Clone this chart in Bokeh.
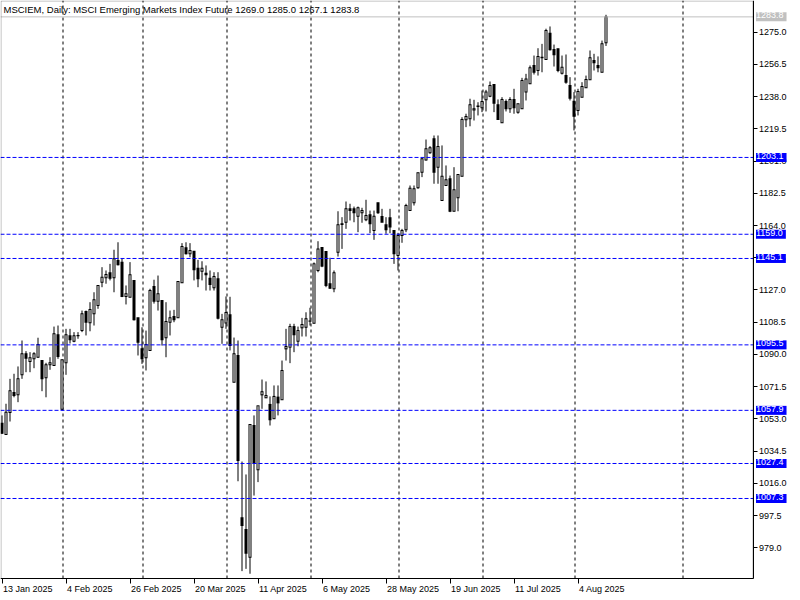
from bokeh.plotting import figure
from bokeh.models import Range1d, FixedTicker, Label, ColumnDataSource, PrintfTickFormatter, BoxAnnotation
from bokeh.embed import file_html
from bokeh.resources import INLINE

FONT = "Liberation Sans"

# ---- data (daily OHLC, MSCI EM index future, 13 Jan 2025 .. 13 Aug 2025) ----
opens = [1050.5, 1044.0, 1056.7, 1068.2, 1066.8, 1078.3, 1090.4, 1086.0, 1087.5, 1088.4,
         1086.5, 1076.6, 1084.1, 1083.7, 1101.3, 1058.5, 1085.2, 1100.7, 1097.6, 1100.9,
         1103.7, 1114.6, 1108.2, 1113.3, 1118.1, 1131.5, 1134.0, 1136.9, 1134.0, 1143.9,
         1143.0, 1123.3, 1122.9, 1132.5, 1111.0, 1093.2, 1088.1, 1092.3, 1129.0, 1120.6,
         1121.0, 1099.6, 1108.5, 1111.8, 1111.0, 1131.1, 1151.2, 1147.8, 1149.3, 1139.5,
         1137.8, 1136.6, 1133.8, 1128.3, 1133.4, 1105.6, 1108.0, 1112.8, 1074.1, 1089.4,
         996.2, 989.5, 973.6, 1049.2, 1023.8, 1066.8, 1065.1, 1061.3, 1053.1, 1065.5,
         1064.0, 1093.2, 1094.2, 1106.0, 1097.6, 1105.3, 1105.6, 1109.1, 1107.9, 1138.2,
         1151.4, 1149.1, 1130.6, 1127.7, 1148.7, 1164.6, 1165.9, 1173.6, 1173.6, 1169.4,
         1171.3, 1167.3, 1170.2, 1161.2, 1177.1, 1169.2, 1164.4, 1168.5, 1161.2, 1146.8,
         1158.3, 1161.6, 1172.6, 1177.1, 1185.7, 1194.6, 1201.7, 1205.8, 1213.8, 1197.5,
         1178.4, 1187.0, 1190.8, 1172.2, 1179.9, 1192.3, 1224.7, 1225.3, 1230.4, 1232.4,
         1231.6, 1236.2, 1238.3, 1245.0, 1233.3, 1223.0, 1235.2, 1231.0, 1236.4, 1229.1,
         1231.0, 1240.6, 1245.4, 1255.9, 1253.0, 1260.3, 1259.3, 1274.4, 1265.1, 1265.5,
         1251.5, 1250.1, 1244.4, 1235.4, 1230.1, 1237.7, 1243.1, 1247.7, 1258.8, 1255.9,
         1252.0, 1269.0]
highs = [1055.0, 1061.7, 1076.0, 1078.9, 1083.1, 1098.0, 1091.9, 1091.3, 1091.3, 1099.6,
         1086.5, 1085.2, 1088.4, 1106.0, 1106.6, 1086.9, 1104.7, 1104.7, 1102.8, 1102.8,
         1115.2, 1115.2, 1120.0, 1125.7, 1129.6, 1140.1, 1138.2, 1142.0, 1150.1, 1154.4,
         1144.9, 1129.6, 1143.0, 1132.5, 1111.0, 1105.6, 1103.7, 1127.7, 1132.9, 1135.3,
         1121.0, 1120.0, 1115.2, 1115.6, 1131.9, 1153.9, 1154.4, 1153.9, 1149.3, 1144.3,
         1143.5, 1141.1, 1138.2, 1137.2, 1137.2, 1113.3, 1123.3, 1123.1, 1099.7, 1098.0,
         1028.5, 1021.1, 1049.8, 1055.0, 1060.5, 1075.6, 1074.5, 1065.9, 1072.2, 1072.2,
         1086.5, 1104.7, 1107.6, 1107.6, 1106.0, 1111.0, 1114.2, 1116.8, 1142.8, 1155.0,
         1151.4, 1149.1, 1145.5, 1138.2, 1172.2, 1168.8, 1177.8, 1176.5, 1174.9, 1174.9,
         1174.2, 1178.8, 1172.6, 1172.6, 1177.1, 1173.6, 1168.8, 1173.6, 1161.2, 1159.8,
         1162.1, 1176.5, 1187.0, 1187.0, 1194.3, 1202.7, 1213.4, 1209.6, 1215.7, 1215.7,
         1210.0, 1198.5, 1192.7, 1197.5, 1193.3, 1226.2, 1228.2, 1236.8, 1236.2, 1234.8,
         1241.5, 1241.9, 1246.7, 1245.0, 1236.4, 1237.7, 1236.4, 1237.7, 1242.5, 1233.9,
         1248.8, 1251.1, 1255.9, 1261.6, 1265.8, 1268.3, 1277.0, 1278.3, 1267.9, 1265.5,
         1261.6, 1262.2, 1249.2, 1240.6, 1242.5, 1246.3, 1250.1, 1264.5, 1262.6, 1261.1,
         1270.2, 1285.0]
lows = [1044.3, 1043.8, 1051.5, 1065.4, 1062.6, 1076.0, 1079.8, 1079.8, 1082.1, 1088.2,
        1068.9, 1065.4, 1081.2, 1083.7, 1087.5, 1057.9, 1078.3, 1096.3, 1097.0, 1099.0,
        1102.8, 1100.9, 1103.3, 1106.6, 1116.2, 1128.6, 1130.6, 1132.5, 1125.7, 1141.1,
        1122.9, 1118.7, 1122.9, 1109.5, 1089.4, 1084.6, 1080.8, 1092.0, 1119.2, 1115.2,
        1095.1, 1088.4, 1100.9, 1108.5, 1111.0, 1131.1, 1147.4, 1145.8, 1132.5, 1128.6,
        1132.5, 1126.7, 1126.7, 1126.7, 1110.1, 1096.1, 1104.7, 1092.3, 1074.1, 1017.2,
        965.6, 966.9, 964.1, 1009.0, 1016.7, 1058.8, 1065.1, 1049.2, 1053.1, 1055.0,
        1064.0, 1086.5, 1085.0, 1091.3, 1094.7, 1100.3, 1100.3, 1106.6, 1107.9, 1137.2,
        1140.1, 1128.6, 1127.7, 1125.7, 1146.2, 1150.6, 1162.1, 1166.9, 1165.9, 1160.2,
        1165.6, 1166.5, 1159.6, 1155.8, 1170.7, 1165.9, 1159.3, 1159.6, 1142.0, 1138.2,
        1154.1, 1160.2, 1172.6, 1175.5, 1185.1, 1191.8, 1201.3, 1205.2, 1188.0, 1188.0,
        1178.4, 1187.0, 1171.7, 1172.2, 1172.2, 1192.3, 1220.5, 1221.0, 1224.3, 1227.2,
        1229.1, 1229.5, 1237.7, 1229.1, 1224.9, 1223.0, 1229.5, 1228.7, 1228.2, 1228.2,
        1231.0, 1235.8, 1245.4, 1250.7, 1250.1, 1252.0, 1259.3, 1264.5, 1255.3, 1252.0,
        1250.7, 1245.4, 1235.8, 1218.6, 1227.2, 1237.7, 1243.1, 1247.7, 1253.0, 1252.0,
        1252.0, 1267.1]
closes = [1044.8, 1056.8, 1069.1, 1066.4, 1076.0, 1090.4, 1087.8, 1088.1, 1090.4, 1095.7,
          1076.0, 1084.1, 1085.2, 1101.9, 1088.8, 1086.9, 1101.3, 1098.4, 1100.7, 1100.7,
          1113.3, 1108.5, 1115.8, 1121.4, 1129.6, 1134.3, 1135.9, 1133.8, 1144.9, 1141.5,
          1123.3, 1124.8, 1135.7, 1109.9, 1097.0, 1087.5, 1095.7, 1126.7, 1120.6, 1124.8,
          1098.4, 1108.9, 1111.0, 1109.9, 1131.9, 1152.0, 1147.8, 1149.7, 1138.6, 1133.4,
          1139.5, 1135.7, 1130.2, 1134.7, 1110.8, 1109.9, 1114.1, 1095.1, 1090.4, 1029.1,
          991.8, 975.9, 1049.8, 1027.6, 1060.5, 1068.6, 1066.4, 1052.5, 1065.9, 1062.2,
          1080.8, 1094.6, 1106.0, 1101.3, 1103.7, 1107.2, 1110.5, 1109.2, 1142.0, 1150.6,
          1140.7, 1129.6, 1128.0, 1136.9, 1164.4, 1165.0, 1173.6, 1172.6, 1171.3, 1174.2,
          1172.6, 1169.8, 1165.0, 1169.4, 1171.3, 1165.9, 1161.6, 1163.1, 1147.8, 1158.3,
          1161.2, 1175.5, 1185.4, 1185.1, 1194.3, 1202.3, 1208.1, 1208.6, 1194.6, 1209.4,
          1192.3, 1190.3, 1172.2, 1184.5, 1193.3, 1224.9, 1226.6, 1233.3, 1231.0, 1232.6,
          1235.2, 1240.6, 1244.4, 1234.2, 1224.9, 1236.4, 1231.0, 1236.4, 1231.6, 1233.9,
          1247.3, 1248.2, 1254.6, 1252.0, 1261.1, 1260.6, 1276.0, 1264.9, 1262.0, 1253.0,
          1254.9, 1246.3, 1237.1, 1226.8, 1241.0, 1243.8, 1247.9, 1260.3, 1257.4, 1254.6,
          1268.3, 1283.8]

# date tick labels (bar index -> label)
date_tick_bars = [0, 16, 32, 48, 64, 80, 96, 112, 128, 144]
date_tick_labels = ["13 Jan 2025", "4 Feb 2025", "26 Feb 2025", "20 Mar 2025", "11 Apr 2025",
                    "6 May 2025", "28 May 2025", "19 Jun 2025", "11 Jul 2025", "4 Aug 2025"]
# first bar of each month (vertical grid)
month_start_bars = [15, 35, 56, 77, 99, 120, 143, 170]
# price axis ticks
price_ticks = [979.0, 997.5, 1016.0, 1034.5, 1053.0, 1071.5, 1090.0, 1108.5, 1127.0,
               1145.5, 1164.0, 1182.5, 1201.0, 1219.5, 1238.0, 1256.5, 1275.0]
# horizontal levels
levels = [1203.1, 1159.0, 1145.1, 1095.5, 1057.9, 1027.4, 1007.3]

symbol = "MSCIEM"
period = "Daily"
description = "MSCI Emerging Markets Index Future"

# ---- view (whole canvas is the frame; axes are pinned inside it) ----
PX_PER_BAR = 4.0
X_LEFT = -0.375                      # bar centres land on pixel centres
X_AXIS = X_LEFT + 752.5 / PX_PER_BAR # chart right edge / price axis
X_RIGHT = X_LEFT + 800 / PX_PER_BAR
GRID_SHIFT = 0.25                    # month separators sit just right of the bar
Y_TOP, Y_AXIS, Y_BOTTOM = 1293.2, 961.37, 948.74   # ~1.742 px per point
HALF_PX_Y = (Y_TOP - Y_BOTTOM) / 600 / 2            # half a pixel in price units

n = len(opens)
bull = [c >= o for o, c in zip(opens, closes)]
body_top = [max(o, c) for o, c in zip(opens, closes)]
body_bot = [min(o, c) for o, c in zip(opens, closes)]

src = ColumnDataSource(dict(
    x=list(range(n)),
    high=highs,
    low=lows,
    otop=[t + HALF_PX_Y for t in body_top],
    obot=[b - HALF_PX_Y for b in body_bot],
))
inner_idx = [i for i in range(n) if bull[i] and body_top[i] - body_bot[i] > 2 * HALF_PX_Y]
inner = ColumnDataSource(dict(
    x=inner_idx,
    itop=[body_top[i] - HALF_PX_Y for i in inner_idx],
    ibot=[body_bot[i] + HALF_PX_Y for i in inner_idx],
))

p = figure(width=800, height=600, x_range=Range1d(X_LEFT, X_RIGHT), y_range=Range1d(Y_BOTTOM, Y_TOP),
           output_backend="svg", toolbar_location=None, y_axis_location="right",
           x_axis_location="below", min_border=0)
p.background_fill_color = "white"
p.border_fill_color = "white"
p.outline_line_color = None
p.xgrid.visible = False
p.ygrid.visible = False

# bottom (time) axis pinned at the chart bottom
xa = p.xaxis[0]
xa.fixed_location = Y_AXIS
xa.bounds = (X_LEFT, X_AXIS)
xa.ticker = FixedTicker(ticks=date_tick_bars)
xa.major_label_overrides = {b: "" for b in date_tick_bars}
xa.major_tick_out = 5
xa.major_tick_in = 0
xa.minor_tick_out = 0
xa.minor_tick_in = 0
xa.axis_line_color = "black"
xa.major_tick_line_color = "black"

# right (price) axis pinned at the chart right edge
ya = p.yaxis[0]
ya.fixed_location = X_AXIS
ya.bounds = (Y_AXIS, Y_TOP)
ya.ticker = FixedTicker(ticks=price_ticks)
ya.formatter = PrintfTickFormatter(format="%.1f")
ya.major_label_text_font = FONT
ya.major_label_text_font_size = "9px"
ya.major_label_text_color = "black"
ya.major_tick_out = 4
ya.major_tick_in = 0
ya.minor_tick_out = 0
ya.minor_tick_in = 0
ya.major_label_standoff = 2
ya.axis_line_color = "black"

# month grid (vertical dashed)
grid_x = [b + GRID_SHIFT for b in month_start_bars]
p.segment(x0=grid_x, x1=grid_x,
          y0=[Y_AXIS] * len(grid_x), y1=[Y_TOP] * len(grid_x),
          line_color="black", line_dash="3 3", line_width=1)

# candles: wick, black 3px body (outline), white 1px interior for up days
p.segment(x0="x", y0="low", x1="x", y1="high", source=src, line_color="black", line_width=1)
p.vbar(x="x", width=3 / PX_PER_BAR, top="otop", bottom="obot", source=src,
       fill_color="black", line_color=None)
p.vbar(x="x", width=1 / PX_PER_BAR, top="itop", bottom="ibot", source=inner,
       fill_color="white", line_color=None)

# current price line + tag
last = closes[-1]
p.segment(x0=[X_LEFT], x1=[X_AXIS], y0=[last], y1=[last], line_color="#c0c0c0", line_width=1)
p.add_layout(Label(x=X_AXIS, y=last, x_offset=3, text=f"{last:.1f}", text_font=FONT,
                   text_font_size="9px", text_color="white", text_baseline="middle",
                   text_align="left", background_fill_color="#c0c0c0", padding=(0, 3, 0, 3)))

# horizontal levels + tags
p.segment(x0=[X_LEFT] * len(levels), x1=[X_AXIS] * len(levels), y0=levels, y1=levels,
          line_color="#0000ff", line_dash="4 2", line_width=1)
for lv in levels:
    p.add_layout(Label(x=X_AXIS, y=lv, x_offset=3, text=f"{lv:.1f}", text_font=FONT,
                       text_font_size="9px", text_color="white", text_baseline="middle",
                       text_align="left", background_fill_color="#0000ff", padding=(0, 3, 0, 3)))

# chart border (left / top)
p.add_layout(BoxAnnotation(left=X_LEFT + 0.5 / PX_PER_BAR, right=X_AXIS, top=Y_TOP - HALF_PX_Y,
                           bottom=Y_AXIS, fill_color=None, fill_alpha=0,
                           line_color="black", line_width=1))

# date labels
for b, t in zip(date_tick_bars, date_tick_labels):
    p.add_layout(Label(x=b, y=Y_AXIS, x_offset=1, y_offset=-5, text=t, text_font=FONT,
                       text_font_size="9px", text_color="black", text_baseline="top",
                       text_align="left"))

# header
title = (f"{symbol}, {period}:  {description}  "
         f"{opens[-1]:.1f} {highs[-1]:.1f} {lows[-1]:.1f} {closes[-1]:.1f}")
p.add_layout(Label(x=X_LEFT, y=Y_TOP, x_offset=3, y_offset=-9, text=title, text_font=FONT,
                   text_font_size="9.5px", text_color="black", text_baseline="middle",
                   text_align="left"))

open("out.html", "w").write(file_html(p, INLINE))
